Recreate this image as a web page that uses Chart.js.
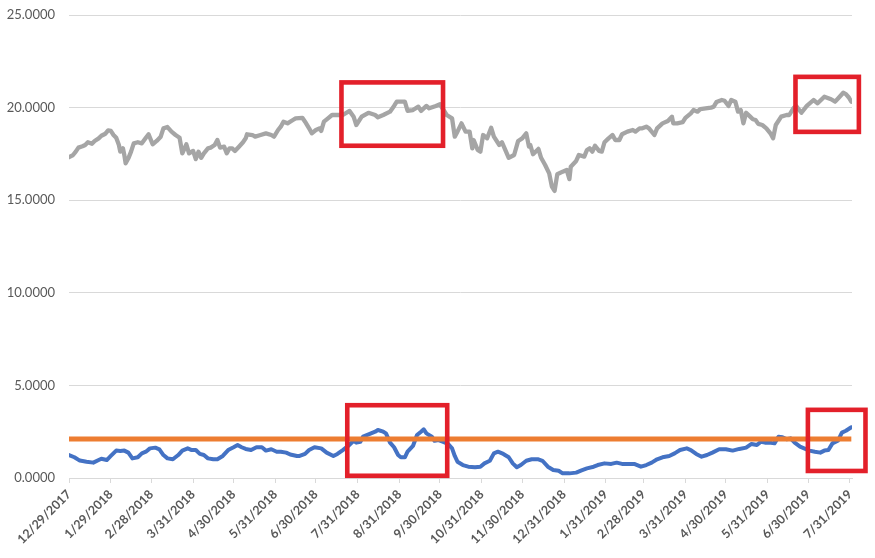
<!DOCTYPE html>
<html>
<head>
<meta charset="utf-8">
<script src="https://cdn.jsdelivr.net/npm/chart.js@4/dist/chart.umd.min.js"></script>
<style>
html,body{margin:0;padding:0;background:#fff;}
#wrap{width:875px;height:558px;position:relative;}
</style>
</head>
<body>
<div id="wrap"><canvas id="c" width="875" height="558"></canvas></div>
<script>
// x-axis tick labels (calendar dates)
const tickLabels = ['12/29/2017','1/29/2018','2/28/2018','3/31/2018','4/30/2018','5/31/2018','6/30/2018','7/31/2018','8/31/2018','9/30/2018','10/31/2018','11/30/2018','12/31/2018','1/31/2019','2/28/2019','3/31/2019','4/30/2019','5/31/2019','6/30/2019','7/31/2019'];

// y-axis range
const yMin = 0, yMax = 25, yStep = 5;

// Gray series: days since 12/29/2017, values
const grayDays = [0,3,5,7,10,12,14,17,19,22,24,27,29,31,33,35,37,38,40,41,42,44,46,48,51,54,57,59,62,65,68,70,73,76,79,82,84,87,89,92,94,96,98,100,103,105,108,110,112,115,117,119,121,123,126,129,131,132,136,138,142,146,150,152,155,157,159,162,166,168,173,175,178,180,183,186,187,189,192,195,198,203,208,211,213,217,222,227,229,233,238,241,243,249,251,255,259,261,265,267,272,275,280,284,286,288,291,294,297,299,300,303,305,307,310,313,315,319,321,324,326,330,333,336,339,341,342,344,348,350,353,356,358,360,362,366,369,371,372,376,378,382,384,386,388,390,393,395,397,400,403,405,408,410,414,418,420,423,425,428,430,434,436,440,444,447,448,451,455,457,461,463,466,468,472,476,478,480,484,486,489,491,494,496,498,500,502,505,507,509,511,514,517,520,522,524,528,532,534,537,539,543,547,552,555,560,565,568,571,574,576,578,580];
const grayValues = [17.32,17.44,17.62,17.84,17.91,17.98,18.13,18.05,18.20,18.34,18.48,18.59,18.77,18.74,18.52,18.37,17.98,17.62,17.80,17.44,16.99,17.26,17.62,18.07,18.13,18.07,18.37,18.56,18.02,18.20,18.43,18.88,18.95,18.70,18.52,18.37,17.53,18.02,17.53,17.66,17.22,17.62,17.29,17.53,17.80,17.84,17.98,18.25,17.84,17.89,17.53,17.80,17.80,17.66,17.89,18.13,18.34,18.56,18.52,18.43,18.52,18.61,18.52,18.43,18.79,18.97,19.24,19.15,19.33,19.42,19.45,19.24,18.88,18.61,18.79,18.88,18.74,19.24,19.42,19.60,19.60,19.60,19.82,19.51,19.06,19.51,19.72,19.60,19.48,19.60,19.78,20.09,20.32,20.32,19.83,19.87,20.05,19.82,20.09,19.96,20.09,20.18,19.60,19.42,18.43,18.70,19.15,18.70,18.70,17.80,18.25,17.71,17.62,18.52,18.34,18.91,18.43,17.98,18.13,17.62,17.29,17.44,18.20,18.34,18.61,17.89,17.98,17.48,17.77,17.29,16.90,16.45,15.73,15.50,16.40,16.54,16.63,16.14,16.81,17.12,17.44,17.35,17.71,17.80,17.62,17.94,17.66,17.62,18.13,18.34,18.52,18.25,18.25,18.56,18.70,18.79,18.70,18.88,18.88,18.97,18.88,18.52,18.88,19.15,19.28,19.51,19.15,19.15,19.21,19.45,19.69,19.87,19.78,19.92,19.96,20.00,20.05,20.30,20.41,20.37,20.09,20.41,20.32,19.78,19.87,19.15,19.72,19.51,19.37,19.33,19.12,19.06,18.88,18.61,18.34,19.06,19.51,19.60,19.60,19.96,20.09,19.72,20.09,20.41,20.23,20.59,20.45,20.32,20.56,20.80,20.73,20.56,20.32];

// Blue series: days since 12/29/2017, values
const blueDays = [0,4,8,13,18,22,24,28,31,35,38,41,44,47,51,54,57,60,64,67,70,73,77,81,84,88,91,94,97,100,103,107,110,114,118,122,125,128,131,135,139,143,146,150,154,157,161,164,169,171,175,178,182,187,191,196,199,203,207,211,213,216,218,223,227,229,233,235,238,241,244,246,249,251,255,258,261,263,265,269,271,274,277,281,284,286,288,292,296,301,305,308,312,315,318,322,326,329,332,335,339,343,348,351,355,359,363,366,371,376,380,384,389,392,397,402,406,410,414,419,424,428,432,436,440,445,449,453,458,461,465,469,473,477,482,487,492,497,502,506,510,513,516,519,523,526,529,532,535,538,542,545,549,553,557,560,563,566,570,573,576,580];
const blueValues = [1.24,1.12,0.94,0.88,0.83,0.97,1.04,0.97,1.19,1.48,1.46,1.48,1.37,1.06,1.12,1.33,1.42,1.60,1.64,1.55,1.24,1.06,1.01,1.24,1.48,1.60,1.51,1.51,1.30,1.24,1.06,1.01,1.01,1.19,1.51,1.66,1.78,1.66,1.57,1.51,1.66,1.66,1.48,1.55,1.42,1.42,1.37,1.27,1.19,1.19,1.30,1.51,1.66,1.60,1.37,1.19,1.30,1.51,1.73,2.01,1.91,1.96,2.23,2.38,2.50,2.59,2.50,2.41,1.91,1.66,1.24,1.12,1.12,1.42,1.73,2.32,2.50,2.63,2.41,2.23,2.01,2.05,1.96,1.84,1.60,1.19,0.88,0.70,0.61,0.58,0.61,0.79,0.93,1.33,1.42,1.30,1.12,0.79,0.58,0.70,0.93,1.01,1.01,0.93,0.61,0.43,0.39,0.25,0.25,0.29,0.41,0.52,0.61,0.70,0.79,0.76,0.83,0.76,0.76,0.76,0.61,0.70,0.83,1.01,1.12,1.19,1.33,1.51,1.60,1.51,1.30,1.15,1.24,1.37,1.55,1.55,1.48,1.57,1.64,1.84,1.78,1.96,1.91,1.91,1.87,2.23,2.20,2.09,2.14,1.91,1.69,1.60,1.48,1.42,1.37,1.48,1.51,1.87,2.01,2.45,2.55,2.74];

// Orange constant threshold
const threshold = 2.11;

// Highlight boxes (data units: days, value)
const boxDayStart = [202.0, 538.6, 206.3, 547.8];
const boxDayEnd   = [277.3, 585.6, 280.4, 590.5];
const boxValLow   = [17.94, 18.69, 0.12, 0.38];
const boxValHigh  = [21.36, 21.66, 3.93, 3.68];

// ---- build ----
function parseMDY(s){const p=s.split('/').map(Number);return Date.UTC(p[2],p[0]-1,p[1]);}
const t0 = parseMDY(tickLabels[0]);
const tickDays = tickLabels.map(s => Math.round((parseMDY(s)-t0)/86400000));
const labelByDay = {};
tickDays.forEach((d,i)=>labelByDay[d]=tickLabels[i]);

const zip = (xs, ys) => xs.map((x,i)=>({x:x,y:ys[i]}));
const xLast = Math.max(grayDays[grayDays.length-1], blueDays[blueDays.length-1]);

const boxPlugin = {
  id:'boxes',
  afterDraw(chart){
    const ctx = chart.ctx, xs = chart.scales.x, ys = chart.scales.y;
    ctx.save();
    ctx.strokeStyle = '#E3202A';
    ctx.lineWidth = 4.6;
    ctx.lineJoin = 'miter';
    for(let i=0;i<boxDayStart.length;i++){
      const x0 = xs.getPixelForValue(boxDayStart[i]);
      const x1 = xs.getPixelForValue(boxDayEnd[i]);
      const y0 = ys.getPixelForValue(boxValHigh[i]);
      const y1 = ys.getPixelForValue(boxValLow[i]);
      ctx.strokeRect(x0, y0, x1-x0, y1-y0);
    }
    ctx.restore();
  }
};

new Chart(document.getElementById('c'), {
  type:'line',
  data:{
    datasets:[
      {data:zip(grayDays,grayValues), borderColor:'#A5A5A5', borderWidth:4.3, pointRadius:0, tension:0, borderJoinStyle:'round', borderCapStyle:'round', order:3},
      {data:zip(blueDays,blueValues), borderColor:'#4472C4', borderWidth:4, pointRadius:0, tension:0, borderJoinStyle:'round', borderCapStyle:'round', order:2},
      {data:[{x:0,y:threshold},{x:xLast,y:threshold}], borderColor:'#ED7D31', borderWidth:5, pointRadius:0, tension:0, order:1}
    ]
  },
  options:{
    responsive:false,
    animation:false,
    events:[],
    layout:{padding:{left:0,right:23,top:15,bottom:0}},
    plugins:{legend:{display:false}, tooltip:{enabled:false}},
    scales:{
      x:{
        type:'linear', min:0, max:580.5,
        afterBuildTicks(scale){ scale.ticks = tickDays.map(v=>({value:v})); },
        afterFit(scale){ scale.height = 80; scale.paddingLeft = 0; scale.paddingRight = 0; },
        grid:{display:true, drawOnChartArea:false, drawTicks:true, tickLength:5, color:'#D9D9D9', lineWidth:1},
        border:{display:true, color:'#D9D9D9', width:1},
        ticks:{
          autoSkip:false, maxRotation:45, minRotation:45, padding:4,
          color:'#595959', font:{family:'Lato', size:12.5, weight:'bold'},
          callback:(v)=>labelByDay[v] || ''
        }
      },
      y:{
        min:yMin, max:yMax,
        afterFit(scale){ scale.width = 69; scale.paddingTop = 0; scale.paddingBottom = 0; },
        grid:{color:'#D9D9D9', lineWidth:1, drawTicks:false},
        border:{display:false},
        ticks:{stepSize:yStep, padding:14, color:'#595959', font:{family:'Lato', size:13},
          callback:(v)=>Number(v).toFixed(4)}
      }
    }
  },
  plugins:[boxPlugin]
});
</script>
</body>
</html>
